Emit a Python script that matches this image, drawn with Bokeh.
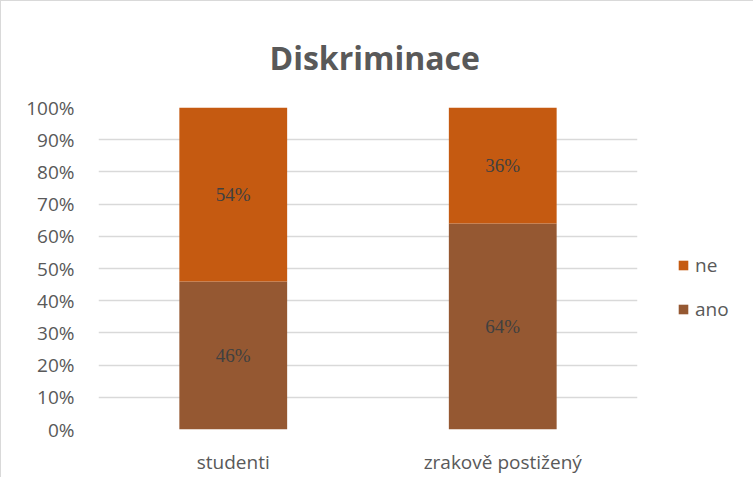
from bokeh.plotting import figure
from bokeh.models import ColumnDataSource, Legend, LegendItem, NumeralTickFormatter, FixedTicker, LabelSet
from bokeh.embed import file_html
from bokeh.resources import INLINE

categories = ["studenti", "zrakově postižený"]
ano = [0.46, 0.64]
ne = [0.54, 0.36]
series = ["ano", "ne"]
colors = {"ano": "#955832", "ne": "#C55A11"}
title_text = "Diskriminace"
FONT = "Open Sans"

src = ColumnDataSource(dict(cat=categories, ano=ano, ne=ne))

p = figure(x_range=categories, y_range=(0, 1), frame_width=539, frame_height=322,
           output_backend="svg", toolbar_location=None,
           min_border_left=97, min_border_right=10, min_border_top=106, min_border_bottom=46)
p.styles = {"border-top": "1px solid #d9d9d9", "border-left": "1px solid #d9d9d9"}

r = p.vbar_stack(series, x="cat", width=0.4, source=src,
                 fill_color=[colors[s] for s in series], line_color=None)

ano_mid = [a / 2 for a in ano]
ne_mid = [a + n / 2 for a, n in zip(ano, ne)]
lab_src = ColumnDataSource(dict(
    cat=categories + categories,
    y=ano_mid + ne_mid,
    txt=[f"{round(v*100)}%" for v in ano] + [f"{round(v*100)}%" for v in ne]))
labels = LabelSet(x="cat", y="y", text="txt", source=lab_src, text_align="center",
                  text_baseline="middle", text_font=FONT, text_font_size="19px",
                  text_color="#404040")
p.add_layout(labels)

p.yaxis.ticker = FixedTicker(ticks=[i / 10 for i in range(11)])
p.yaxis.formatter = NumeralTickFormatter(format="0%")
p.xgrid.grid_line_color = None
p.ygrid.grid_line_color = "#d9d9d9"
p.ygrid.grid_line_width = 1.3
for ax in (p.xaxis, p.yaxis):
    ax.axis_line_color = None
    ax.major_tick_line_color = None
    ax.minor_tick_line_color = None
    ax.major_label_text_font = FONT
    ax.major_label_text_font_size = "19px"
    ax.major_label_text_color = "#595959"
p.yaxis.major_label_standoff = 18
p.xaxis.major_label_standoff = 13
p.outline_line_color = None
p.x_range.range_padding = 0.0

p.title.text = title_text
p.title.text_font = FONT
p.title.text_font_size = "32px"
p.title.text_font_style = "bold"
p.title.text_color = "#595959"
p.title.align = "left"
p.title.offset = 171
p.title.standoff = 57

legend = Legend(items=[LegendItem(label="ne", renderers=[r[1]]),
                       LegendItem(label="ano", renderers=[r[0]])],
                location=(40, 107), border_line_color=None, background_fill_alpha=0,
                label_text_font=FONT, label_text_font_size="19px", label_text_color="#595959",
                glyph_width=12, glyph_height=12, spacing=18, label_standoff=6,
                margin=31, padding=10)
p.add_layout(legend, "right")

open("out.html", "w").write(file_html(p, INLINE))
